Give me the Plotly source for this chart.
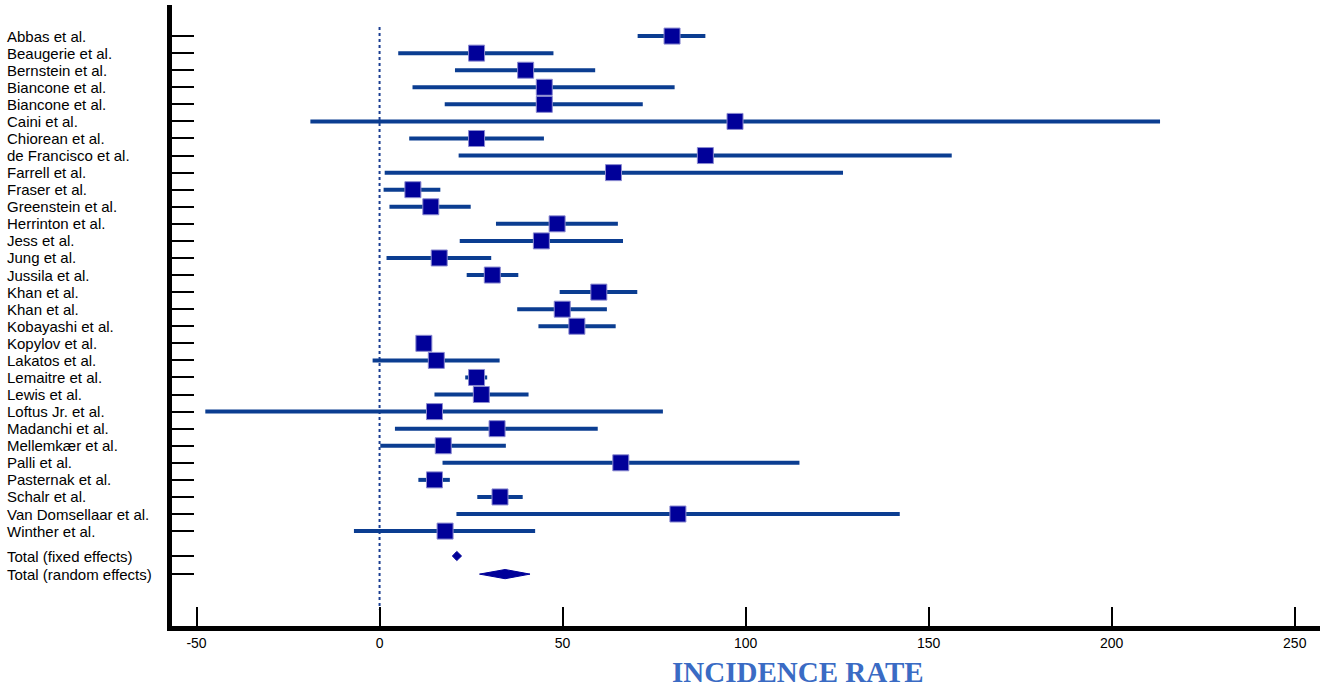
import plotly.graph_objects as go

# Studien und Inzidenzraten (Schaetzer, untere und obere Grenze)
studies = ["Abbas et al.", "Beaugerie et al.", "Bernstein et al.", "Biancone et al.",
           "Biancone et al.", "Caini et al.", "Chiorean et al.", "de Francisco et al.",
           "Farrell et al.", "Fraser et al.", "Greenstein et al.", "Herrinton et al.",
           "Jess et al.", "Jung et al.", "Jussila et al.", "Khan et al.", "Khan et al.",
           "Kobayashi et al.", "Kopylov et al.", "Lakatos et al.", "Lemaitre et al.",
           "Lewis et al.", "Loftus Jr. et al.", "Madanchi et al.", "Mellemkær et al.",
           "Palli et al.", "Pasternak et al.", "Schalr et al.", "Van Domsellaar et al.",
           "Winther et al."]
est = [79.9, 26.5, 39.9, 45.0, 45.0, 97.1, 26.5, 89.0, 63.9, 9.1,
       14.0, 48.5, 44.2, 16.3, 30.8, 59.9, 49.9, 53.9, 12.1, 15.5,
       26.5, 27.8, 15.0, 32.1, 17.4, 65.9, 15.0, 32.9, 81.5, 17.9]
lower = [70.5, 5.1, 20.6, 9.0, 17.8, -18.9, 8.1, 21.6, 1.4, 1.1,
         2.7, 31.8, 21.9, 1.9, 23.8, 49.2, 37.6, 43.4, 10.5, -1.9,
         23.4, 15.0, -47.6, 4.2, 0.2, 17.2, 10.6, 26.7, 21.0, -7.0]
upper = [89.0, 47.5, 58.9, 80.6, 71.9, 213.2, 44.9, 156.3, 126.6, 16.6,
         24.9, 65.1, 66.5, 30.5, 37.9, 70.4, 62.1, 64.5, 13.8, 32.8,
         29.4, 40.7, 77.4, 59.6, 34.5, 114.7, 19.2, 39.1, 142.1, 42.5]

total_labels = ["Total (fixed effects)", "Total (random effects)"]
total_est = [21.1, 34.3]
total_lower = [19.9, 27.3]
total_upper = [22.4, 41.1]

x_ticks = [-50, 0, 50, 100, 150, 200, 250]
x_ticktext = ["-50", "0", "50", "100", "150", "200", "250"]

# Zeilenpositionen (oben nach unten)
rows = list(range(len(studies)))
n = len(studies) - 1
total_rows = [n + 1.46, n + 2.52]

fig = go.Figure()

# Nulllinie gepunktet
fig.add_trace(go.Scatter(x=[0, 0], y=[-0.53, 33.6], mode="lines",
                         line=dict(color="#1a3d91", width=2, dash="dot"),
                         hoverinfo="skip", showlegend=False))

# Konfidenzintervalle
wx, wy = [], []
for r, lo, hi in zip(rows, lower, upper):
    wx += [lo, hi, None]
    wy += [r, r, None]
fig.add_trace(go.Scatter(x=wx, y=wy, mode="lines",
                         line=dict(color="#0b3d91", width=4),
                         hoverinfo="skip", showlegend=False))

# Punktschaetzer
fig.add_trace(go.Scatter(x=est, y=rows, mode="markers",
                         marker=dict(symbol="square", size=16, color="#000099",
                                     line=dict(color="#8a8ad0", width=1)),
                         text=studies, showlegend=False))

# Rauten fuer die Gesamtschaetzer
h = 0.27
for r, e, lo, hi in zip(total_rows, total_est, total_lower, total_upper):
    fig.add_trace(go.Scatter(x=[lo, e, hi, e, lo], y=[r, r - h, r, r + h, r],
                             mode="lines", fill="toself", fillcolor="#000099",
                             line=dict(color="#000099", width=1),
                             hoverinfo="skip", showlegend=False))

# Beschriftung links
plot_w = 1320 - 172
for lab, r in zip(studies + total_labels, rows + total_rows):
    fig.add_annotation(x=(5 - 172) / plot_w, xref="paper", y=r, yref="y",
                       text=lab, showarrow=False, xanchor="left", yanchor="middle",
                       font=dict(family="Liberation Sans, Arial", size=15, color="black"))

fig.add_annotation(x=(798 - 172) / plot_w, xref="paper", y=-(672 - 626) / 621, yref="paper",
                   text="<b>INCIDENCE RATE</b>", showarrow=False,
                   xanchor="center", yanchor="middle",
                   font=dict(family="Liberation Serif, Times New Roman", size=29,
                             color="#3a6bc4"))

fig.update_xaxes(range=[-56.7, 256.9], tickvals=x_ticks, ticktext=x_ticktext,
                 ticks="inside", ticklen=19, tickwidth=2, tickcolor="black",
                 showline=True, linewidth=5, linecolor="black",
                 showgrid=False, zeroline=False,
                 tickfont=dict(family="Liberation Sans, Arial", size=14, color="black"))
fig.update_yaxes(range=[34.56, -1.82], tickvals=rows + total_rows, ticks="inside",
                 ticklen=22, tickwidth=2, tickcolor="black",
                 showline=True, linewidth=5, linecolor="black",
                 showticklabels=False, showgrid=False, zeroline=False)

fig.update_layout(width=1325, height=688,
                  margin=dict(l=172, r=5, t=5, b=62),
                  plot_bgcolor="white", paper_bgcolor="white")

fig.write_html("out.html", config={"displayModeBar": False},
               post_script="document.body.style.margin='0';")
